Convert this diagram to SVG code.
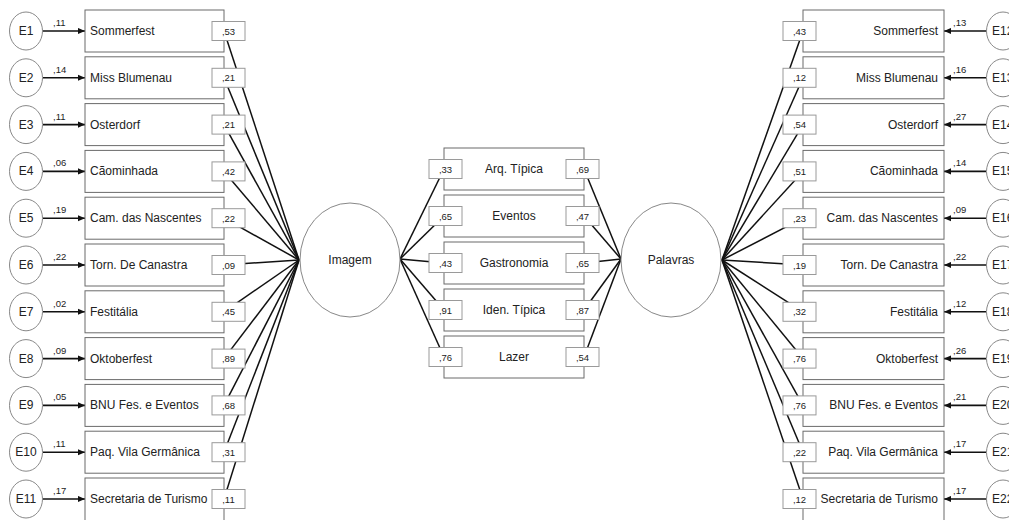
<svg xmlns="http://www.w3.org/2000/svg" width="1009" height="520" viewBox="0 0 1009 520">
<style>
text{font-family:"Liberation Sans",Arial,sans-serif;fill:#222}
.box{fill:#fff;stroke:#6b6b6b;stroke-width:1}
.ld{fill:#fff;stroke:#9a9a9a;stroke-width:1}
.lat{fill:#fff;stroke:#888;stroke-width:1}
.err{fill:#fff;stroke:#888;stroke-width:1}
.lt{font-size:12px}
.num{font-size:9.5px}
.ln{stroke:#111;stroke-width:1.5;fill:none}
.ar{stroke:#111;stroke-width:1.6;fill:none;marker-end:url(#ah)}
</style>
<defs>
<marker id="ah" viewBox="0 0 8 8" refX="8" refY="4" markerWidth="7" markerHeight="7" markerUnits="userSpaceOnUse" orient="auto">
<path d="M0,0.5 L8,4 L0,7.5 Z" fill="#111"/>
</marker>
</defs>
<rect width="1009" height="520" fill="#fff"/>
<g id="connectors">
<!-- left indicators to Imagem -->
<line class="ln" x1="224" y1="31" x2="299" y2="260"/>
<line class="ln" x1="224" y1="77.8" x2="299" y2="260"/>
<line class="ln" x1="224" y1="124.6" x2="299" y2="260"/>
<line class="ln" x1="224" y1="171.4" x2="299" y2="260"/>
<line class="ln" x1="224" y1="218.2" x2="299" y2="260"/>
<line class="ln" x1="224" y1="265" x2="299" y2="260"/>
<line class="ln" x1="224" y1="311.8" x2="299" y2="260"/>
<line class="ln" x1="224" y1="358.6" x2="299" y2="260"/>
<line class="ln" x1="224" y1="405.4" x2="299" y2="260"/>
<line class="ln" x1="224" y1="452.2" x2="299" y2="260"/>
<line class="ln" x1="224" y1="499" x2="299" y2="260"/>
<!-- right indicators to Palavras -->
<line class="ln" x1="803" y1="31" x2="722" y2="260"/>
<line class="ln" x1="803" y1="77.8" x2="722" y2="260"/>
<line class="ln" x1="803" y1="124.6" x2="722" y2="260"/>
<line class="ln" x1="803" y1="171.4" x2="722" y2="260"/>
<line class="ln" x1="803" y1="218.2" x2="722" y2="260"/>
<line class="ln" x1="803" y1="265" x2="722" y2="260"/>
<line class="ln" x1="803" y1="311.8" x2="722" y2="260"/>
<line class="ln" x1="803" y1="358.6" x2="722" y2="260"/>
<line class="ln" x1="803" y1="405.4" x2="722" y2="260"/>
<line class="ln" x1="803" y1="452.2" x2="722" y2="260"/>
<line class="ln" x1="803" y1="499" x2="722" y2="260"/>
<!-- middle -->
<line class="ln" x1="400" y1="259" x2="444" y2="169"/>
<line class="ln" x1="400" y1="259" x2="444" y2="216"/>
<line class="ln" x1="400" y1="259" x2="444" y2="263"/>
<line class="ln" x1="400" y1="259" x2="444" y2="310"/>
<line class="ln" x1="400" y1="259" x2="444" y2="357"/>
<line class="ln" x1="621" y1="259" x2="584" y2="169"/>
<line class="ln" x1="621" y1="259" x2="584" y2="216"/>
<line class="ln" x1="621" y1="259" x2="584" y2="263"/>
<line class="ln" x1="621" y1="259" x2="584" y2="310"/>
<line class="ln" x1="621" y1="259" x2="584" y2="357"/>
<!-- error arrows left -->
<line class="ar" x1="43" y1="31" x2="85" y2="31"/>
<line class="ar" x1="43" y1="77.8" x2="85" y2="77.8"/>
<line class="ar" x1="43" y1="124.6" x2="85" y2="124.6"/>
<line class="ar" x1="43" y1="171.4" x2="85" y2="171.4"/>
<line class="ar" x1="43" y1="218.2" x2="85" y2="218.2"/>
<line class="ar" x1="43" y1="265" x2="85" y2="265"/>
<line class="ar" x1="43" y1="311.8" x2="85" y2="311.8"/>
<line class="ar" x1="43" y1="358.6" x2="85" y2="358.6"/>
<line class="ar" x1="43" y1="405.4" x2="85" y2="405.4"/>
<line class="ar" x1="43" y1="452.2" x2="85" y2="452.2"/>
<line class="ar" x1="43" y1="499" x2="85" y2="499"/>
<!-- error arrows right -->
<line class="ar" x1="986" y1="31" x2="944" y2="31"/>
<line class="ar" x1="986" y1="77.8" x2="944" y2="77.8"/>
<line class="ar" x1="986" y1="124.6" x2="944" y2="124.6"/>
<line class="ar" x1="986" y1="171.4" x2="944" y2="171.4"/>
<line class="ar" x1="986" y1="218.2" x2="944" y2="218.2"/>
<line class="ar" x1="986" y1="265" x2="944" y2="265"/>
<line class="ar" x1="986" y1="311.8" x2="944" y2="311.8"/>
<line class="ar" x1="986" y1="358.6" x2="944" y2="358.6"/>
<line class="ar" x1="986" y1="405.4" x2="944" y2="405.4"/>
<line class="ar" x1="986" y1="452.2" x2="944" y2="452.2"/>
<line class="ar" x1="986" y1="499" x2="944" y2="499"/>
<!-- error path labels -->
<g class="num">
<text x="53" y="26">,11</text><text x="53" y="72.8">,14</text><text x="53" y="119.6">,11</text><text x="53" y="166.4">,06</text>
<text x="53" y="213.2">,19</text><text x="53" y="260">,22</text><text x="53" y="306.8">,02</text><text x="53" y="353.6">,09</text>
<text x="53" y="400.4">,05</text><text x="53" y="447.2">,11</text><text x="53" y="494">,17</text>
<text x="953" y="26">,13</text><text x="953" y="72.8">,16</text><text x="953" y="119.6">,27</text><text x="953" y="166.4">,14</text>
<text x="953" y="213.2">,09</text><text x="953" y="260">,22</text><text x="953" y="306.8">,12</text><text x="953" y="353.6">,26</text>
<text x="953" y="400.4">,21</text><text x="953" y="447.2">,17</text><text x="953" y="494">,17</text>
</g>
</g>
<!-- latent nodes -->
<g id="imagem"><ellipse class="lat" cx="350" cy="260" rx="50" ry="57"/><text class="lt" x="350" y="264" text-anchor="middle">Imagem</text></g>
<g id="palavras"><ellipse class="lat" cx="671" cy="260" rx="50" ry="57"/><text class="lt" x="671" y="264" text-anchor="middle">Palavras</text></g>
<!-- error nodes left -->
<g id="e1"><ellipse class="err" cx="26" cy="31" rx="16.5" ry="19"/><text class="lt" x="26" y="35" text-anchor="middle">E1</text></g>
<g id="e2"><ellipse class="err" cx="26" cy="77.8" rx="16.5" ry="19"/><text class="lt" x="26" y="81.8" text-anchor="middle">E2</text></g>
<g id="e3"><ellipse class="err" cx="26" cy="124.6" rx="16.5" ry="19"/><text class="lt" x="26" y="128.6" text-anchor="middle">E3</text></g>
<g id="e4"><ellipse class="err" cx="26" cy="171.4" rx="16.5" ry="19"/><text class="lt" x="26" y="175.4" text-anchor="middle">E4</text></g>
<g id="e5"><ellipse class="err" cx="26" cy="218.2" rx="16.5" ry="19"/><text class="lt" x="26" y="222.2" text-anchor="middle">E5</text></g>
<g id="e6"><ellipse class="err" cx="26" cy="265" rx="16.5" ry="19"/><text class="lt" x="26" y="269" text-anchor="middle">E6</text></g>
<g id="e7"><ellipse class="err" cx="26" cy="311.8" rx="16.5" ry="19"/><text class="lt" x="26" y="315.8" text-anchor="middle">E7</text></g>
<g id="e8"><ellipse class="err" cx="26" cy="358.6" rx="16.5" ry="19"/><text class="lt" x="26" y="362.6" text-anchor="middle">E8</text></g>
<g id="e9"><ellipse class="err" cx="26" cy="405.4" rx="16.5" ry="19"/><text class="lt" x="26" y="409.4" text-anchor="middle">E9</text></g>
<g id="e10"><ellipse class="err" cx="26" cy="452.2" rx="16.5" ry="19"/><text class="lt" x="26" y="456.2" text-anchor="middle">E10</text></g>
<g id="e11"><ellipse class="err" cx="26" cy="499" rx="16.5" ry="19"/><text class="lt" x="26" y="503" text-anchor="middle">E11</text></g>
<!-- error nodes right -->
<g id="e12"><ellipse class="err" cx="1003" cy="31" rx="16.5" ry="19"/><text class="lt" x="992" y="35">E12</text></g>
<g id="e13"><ellipse class="err" cx="1003" cy="77.8" rx="16.5" ry="19"/><text class="lt" x="992" y="81.8">E13</text></g>
<g id="e14"><ellipse class="err" cx="1003" cy="124.6" rx="16.5" ry="19"/><text class="lt" x="992" y="128.6">E14</text></g>
<g id="e15"><ellipse class="err" cx="1003" cy="171.4" rx="16.5" ry="19"/><text class="lt" x="992" y="175.4">E15</text></g>
<g id="e16"><ellipse class="err" cx="1003" cy="218.2" rx="16.5" ry="19"/><text class="lt" x="992" y="222.2">E16</text></g>
<g id="e17"><ellipse class="err" cx="1003" cy="265" rx="16.5" ry="19"/><text class="lt" x="992" y="269">E17</text></g>
<g id="e18"><ellipse class="err" cx="1003" cy="311.8" rx="16.5" ry="19"/><text class="lt" x="992" y="315.8">E18</text></g>
<g id="e19"><ellipse class="err" cx="1003" cy="358.6" rx="16.5" ry="19"/><text class="lt" x="992" y="362.6">E19</text></g>
<g id="e20"><ellipse class="err" cx="1003" cy="405.4" rx="16.5" ry="19"/><text class="lt" x="992" y="409.4">E20</text></g>
<g id="e21"><ellipse class="err" cx="1003" cy="452.2" rx="16.5" ry="19"/><text class="lt" x="992" y="456.2">E21</text></g>
<g id="e22"><ellipse class="err" cx="1003" cy="499" rx="16.5" ry="19"/><text class="lt" x="992" y="503">E22</text></g>
<!-- left indicators -->
<g id="l1"><rect class="box" x="85" y="10" width="139" height="42"/><text class="lt" x="90" y="35">Sommerfest</text></g>
<g id="l2"><rect class="box" x="85" y="56.8" width="139" height="42"/><text class="lt" x="90" y="81.8">Miss Blumenau</text></g>
<g id="l3"><rect class="box" x="85" y="103.6" width="139" height="42"/><text class="lt" x="90" y="128.6">Osterdorf</text></g>
<g id="l4"><rect class="box" x="85" y="150.4" width="139" height="42"/><text class="lt" x="90" y="175.4">Cãominhada</text></g>
<g id="l5"><rect class="box" x="85" y="197.2" width="139" height="42"/><text class="lt" x="90" y="222.2">Cam. das Nascentes</text></g>
<g id="l6"><rect class="box" x="85" y="244" width="139" height="42"/><text class="lt" x="90" y="269">Torn. De Canastra</text></g>
<g id="l7"><rect class="box" x="85" y="290.8" width="139" height="42"/><text class="lt" x="90" y="315.8">Festitália</text></g>
<g id="l8"><rect class="box" x="85" y="337.6" width="139" height="42"/><text class="lt" x="90" y="362.6">Oktoberfest</text></g>
<g id="l9"><rect class="box" x="85" y="384.4" width="139" height="42"/><text class="lt" x="90" y="409.4">BNU Fes. e Eventos</text></g>
<g id="l10"><rect class="box" x="85" y="431.2" width="139" height="42"/><text class="lt" x="90" y="456.2">Paq. Vila Germânica</text></g>
<g id="l11"><rect class="box" x="85" y="478" width="139" height="46"/><text class="lt" x="90" y="503">Secretaria de Turismo</text></g>
<!-- right indicators -->
<g id="r1"><rect class="box" x="803" y="10" width="141" height="42"/><text class="lt" x="938" y="35" text-anchor="end">Sommerfest</text></g>
<g id="r2"><rect class="box" x="803" y="56.8" width="141" height="42"/><text class="lt" x="938" y="81.8" text-anchor="end">Miss Blumenau</text></g>
<g id="r3"><rect class="box" x="803" y="103.6" width="141" height="42"/><text class="lt" x="938" y="128.6" text-anchor="end">Osterdorf</text></g>
<g id="r4"><rect class="box" x="803" y="150.4" width="141" height="42"/><text class="lt" x="938" y="175.4" text-anchor="end">Cãominhada</text></g>
<g id="r5"><rect class="box" x="803" y="197.2" width="141" height="42"/><text class="lt" x="938" y="222.2" text-anchor="end">Cam. das Nascentes</text></g>
<g id="r6"><rect class="box" x="803" y="244" width="141" height="42"/><text class="lt" x="938" y="269" text-anchor="end">Torn. De Canastra</text></g>
<g id="r7"><rect class="box" x="803" y="290.8" width="141" height="42"/><text class="lt" x="938" y="315.8" text-anchor="end">Festitália</text></g>
<g id="r8"><rect class="box" x="803" y="337.6" width="141" height="42"/><text class="lt" x="938" y="362.6" text-anchor="end">Oktoberfest</text></g>
<g id="r9"><rect class="box" x="803" y="384.4" width="141" height="42"/><text class="lt" x="938" y="409.4" text-anchor="end">BNU Fes. e Eventos</text></g>
<g id="r10"><rect class="box" x="803" y="431.2" width="141" height="42"/><text class="lt" x="938" y="456.2" text-anchor="end">Paq. Vila Germânica</text></g>
<g id="r11"><rect class="box" x="803" y="478" width="141" height="46"/><text class="lt" x="938" y="503" text-anchor="end">Secretaria de Turismo</text></g>
<!-- middle indicators -->
<g id="m1"><rect class="box" x="444" y="148" width="140" height="42"/><text class="lt" x="514" y="173" text-anchor="middle">Arq. Típica</text></g>
<g id="m2"><rect class="box" x="444" y="195" width="140" height="42"/><text class="lt" x="514" y="220" text-anchor="middle">Eventos</text></g>
<g id="m3"><rect class="box" x="444" y="242" width="140" height="42"/><text class="lt" x="514" y="267" text-anchor="middle">Gastronomia</text></g>
<g id="m4"><rect class="box" x="444" y="289" width="140" height="42"/><text class="lt" x="514" y="314" text-anchor="middle">Iden. Típica</text></g>
<g id="m5"><rect class="box" x="444" y="336" width="140" height="42"/><text class="lt" x="514" y="361" text-anchor="middle">Lazer</text></g>
<!-- loading labels -->
<g id="loadings" class="num">
<rect class="ld" x="212" y="21.5" width="33" height="19"/><text x="228.5" y="34.5" text-anchor="middle">,53</text>
<rect class="ld" x="212" y="68.3" width="33" height="19"/><text x="228.5" y="81.3" text-anchor="middle">,21</text>
<rect class="ld" x="212" y="115.1" width="33" height="19"/><text x="228.5" y="128.1" text-anchor="middle">,21</text>
<rect class="ld" x="212" y="161.9" width="33" height="19"/><text x="228.5" y="174.9" text-anchor="middle">,42</text>
<rect class="ld" x="212" y="208.7" width="33" height="19"/><text x="228.5" y="221.7" text-anchor="middle">,22</text>
<rect class="ld" x="212" y="255.5" width="33" height="19"/><text x="228.5" y="268.5" text-anchor="middle">,09</text>
<rect class="ld" x="212" y="302.3" width="33" height="19"/><text x="228.5" y="315.3" text-anchor="middle">,45</text>
<rect class="ld" x="212" y="349.1" width="33" height="19"/><text x="228.5" y="362.1" text-anchor="middle">,89</text>
<rect class="ld" x="212" y="395.9" width="33" height="19"/><text x="228.5" y="408.9" text-anchor="middle">,68</text>
<rect class="ld" x="212" y="442.7" width="33" height="19"/><text x="228.5" y="455.7" text-anchor="middle">,31</text>
<rect class="ld" x="212" y="489.5" width="33" height="19"/><text x="228.5" y="502.5" text-anchor="middle">,11</text>
<rect class="ld" x="783" y="21.5" width="33" height="19"/><text x="799.5" y="34.5" text-anchor="middle">,43</text>
<rect class="ld" x="783" y="68.3" width="33" height="19"/><text x="799.5" y="81.3" text-anchor="middle">,12</text>
<rect class="ld" x="783" y="115.1" width="33" height="19"/><text x="799.5" y="128.1" text-anchor="middle">,54</text>
<rect class="ld" x="783" y="161.9" width="33" height="19"/><text x="799.5" y="174.9" text-anchor="middle">,51</text>
<rect class="ld" x="783" y="208.7" width="33" height="19"/><text x="799.5" y="221.7" text-anchor="middle">,23</text>
<rect class="ld" x="783" y="255.5" width="33" height="19"/><text x="799.5" y="268.5" text-anchor="middle">,19</text>
<rect class="ld" x="783" y="302.3" width="33" height="19"/><text x="799.5" y="315.3" text-anchor="middle">,32</text>
<rect class="ld" x="783" y="349.1" width="33" height="19"/><text x="799.5" y="362.1" text-anchor="middle">,76</text>
<rect class="ld" x="783" y="395.9" width="33" height="19"/><text x="799.5" y="408.9" text-anchor="middle">,76</text>
<rect class="ld" x="783" y="442.7" width="33" height="19"/><text x="799.5" y="455.7" text-anchor="middle">,22</text>
<rect class="ld" x="783" y="489.5" width="33" height="19"/><text x="799.5" y="502.5" text-anchor="middle">,12</text>
<rect class="ld" x="429" y="159.5" width="33" height="19"/><text x="445.5" y="172.5" text-anchor="middle">,33</text>
<rect class="ld" x="429" y="206.5" width="33" height="19"/><text x="445.5" y="219.5" text-anchor="middle">,65</text>
<rect class="ld" x="429" y="253.5" width="33" height="19"/><text x="445.5" y="266.5" text-anchor="middle">,43</text>
<rect class="ld" x="429" y="300.5" width="33" height="19"/><text x="445.5" y="313.5" text-anchor="middle">,91</text>
<rect class="ld" x="429" y="347.5" width="33" height="19"/><text x="445.5" y="360.5" text-anchor="middle">,76</text>
<rect class="ld" x="566" y="159.5" width="33" height="19"/><text x="582.5" y="172.5" text-anchor="middle">,69</text>
<rect class="ld" x="566" y="206.5" width="33" height="19"/><text x="582.5" y="219.5" text-anchor="middle">,47</text>
<rect class="ld" x="566" y="253.5" width="33" height="19"/><text x="582.5" y="266.5" text-anchor="middle">,65</text>
<rect class="ld" x="566" y="300.5" width="33" height="19"/><text x="582.5" y="313.5" text-anchor="middle">,87</text>
<rect class="ld" x="566" y="347.5" width="33" height="19"/><text x="582.5" y="360.5" text-anchor="middle">,54</text>
</g>
</svg>
